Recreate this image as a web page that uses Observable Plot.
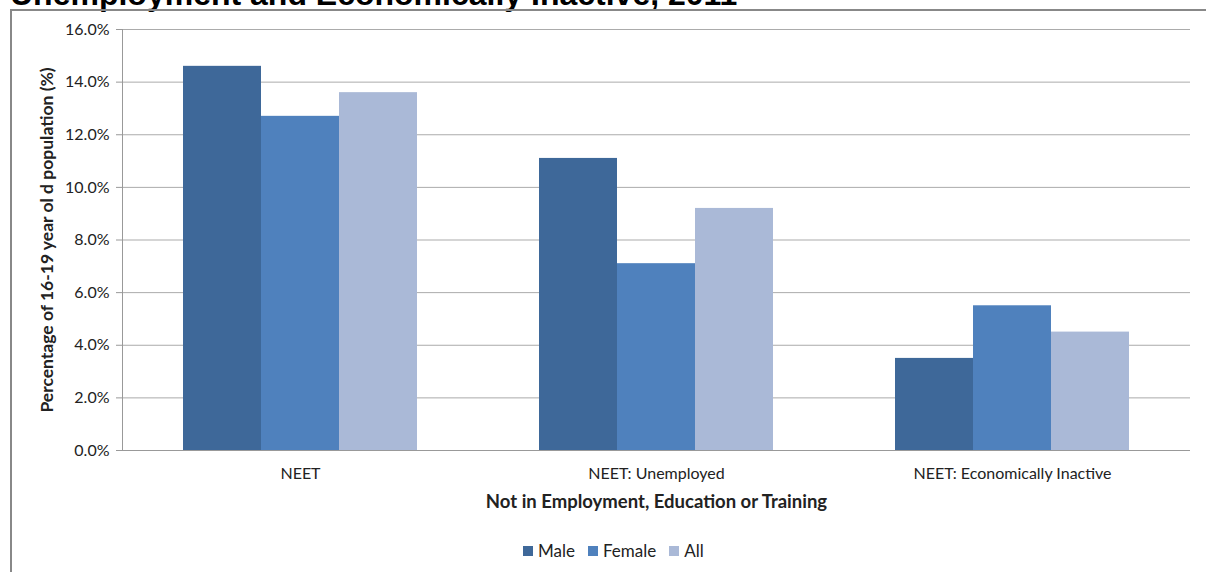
<!DOCTYPE html>
<html>
<head>
<meta charset="utf-8">
<script src="https://cdn.jsdelivr.net/npm/d3@7"></script>
<script src="https://cdn.jsdelivr.net/npm/@observablehq/plot@0.6"></script>
<style>
  body { margin: 0; background: #fff; }
  #wrap { position: relative; width: 1206px; height: 572px; overflow: hidden; background: #fff; font-family: Lato, "Open Sans", sans-serif; }
  #title { position: absolute; left: 10px; top: -22px; font: bold 32px "Liberation Sans", Arial, sans-serif; line-height: 32px; white-space: nowrap; color: #000; }
  #border { position: absolute; left: 10px; top: 9px; width: 1400px; height: 700px; border-left: 2px solid #888; border-top: 2px solid #888; }
  #chart { position: absolute; left: 0; top: 0; }
  #legend { position: absolute; top: 541px; left: 523px; display: flex; align-items: center; font-size: 17px; color: #222; line-height: 20px; }
  #legend .item { display: flex; align-items: center; margin-right: 13px; }
  #legend .sw { width: 10px; height: 10px; margin-right: 5px; }
  g[aria-label="fx-axis label"] text, g[aria-label="y-axis label"] text { font-weight: bold; }
  g[aria-label="fx-axis label"] text { font-size: 18.5px; }
  g[aria-label="y-axis label"] text { font-size: 17.5px; }
</style>
</head>
<body>
<div id="wrap">
  <div id="title">Unemployment and Economically Inactive, 2011</div>
  <div id="border"></div>
  <div id="chart"></div>
  <div id="legend"></div>
</div>
<script>
const categories = ["NEET", "NEET: Unemployed", "NEET: Economically Inactive"];
const series = ["Male", "Female", "All"];
const male = [14.6, 11.1, 3.5];
const female = [12.7, 7.1, 5.5];
const all = [13.6, 9.2, 4.5];
const colors = ["#3E6899", "#4F81BD", "#AAB9D7"];
const yTicks = [0, 2, 4, 6, 8, 10, 12, 14, 16];
const xTitle = "Not in Employment, Education or Training";
const yTitle = "Percentage of 16-19 year ol d population (%)";

const values = [male, female, all];
const rows = categories.flatMap((c, i) => series.map((s, j) => ({category: c, series: s, value: values[j][i]})));

const chart = Plot.plot({
  width: 1206,
  height: 520,
  marginLeft: 121,
  marginRight: 15,
  marginTop: 29,
  marginBottom: 70,
  style: {fontFamily: "Lato, 'Open Sans', sans-serif", fontSize: "16px", color: "#222", background: "transparent"},
  fx: {domain: categories, padding: 0},
  x: {domain: series, paddingInner: 0, paddingOuter: 0.77, axis: null},
  y: {domain: [0, 16]},
  color: {domain: series, range: colors},
  marks: [
    Plot.gridY(yTicks, {stroke: "#ababab", strokeOpacity: 1}),
    Plot.barY(rows, {fx: "category", x: "series", y: "value", fill: "series"}),
    Plot.ruleY([0], {stroke: "#999"}),
    Plot.frame({anchor: "left", facetAnchor: "left", stroke: "#999"}),
    Plot.axisY(yTicks, {tickFormat: d => d.toFixed(1) + "%", tickSize: 6, tickPadding: 7, stroke: "#999", fill: "#222",
      label: yTitle, labelAnchor: "center", labelOffset: 82, labelArrow: "none"}),
    Plot.axisFx({anchor: "bottom", tickSize: 0, tickPadding: 17, fill: "#222",
      label: xTitle, labelAnchor: "center", labelOffset: 57, labelArrow: "none"})
  ]
});
document.getElementById("chart").appendChild(chart);

const legend = document.getElementById("legend");
series.forEach((s, i) => {
  const item = document.createElement("div");
  item.className = "item";
  const sw = document.createElement("span");
  sw.className = "sw";
  sw.style.background = colors[i];
  const t = document.createElement("span");
  t.textContent = s;
  item.appendChild(sw);
  item.appendChild(t);
  legend.appendChild(item);
});
</script>
</body>
</html>
